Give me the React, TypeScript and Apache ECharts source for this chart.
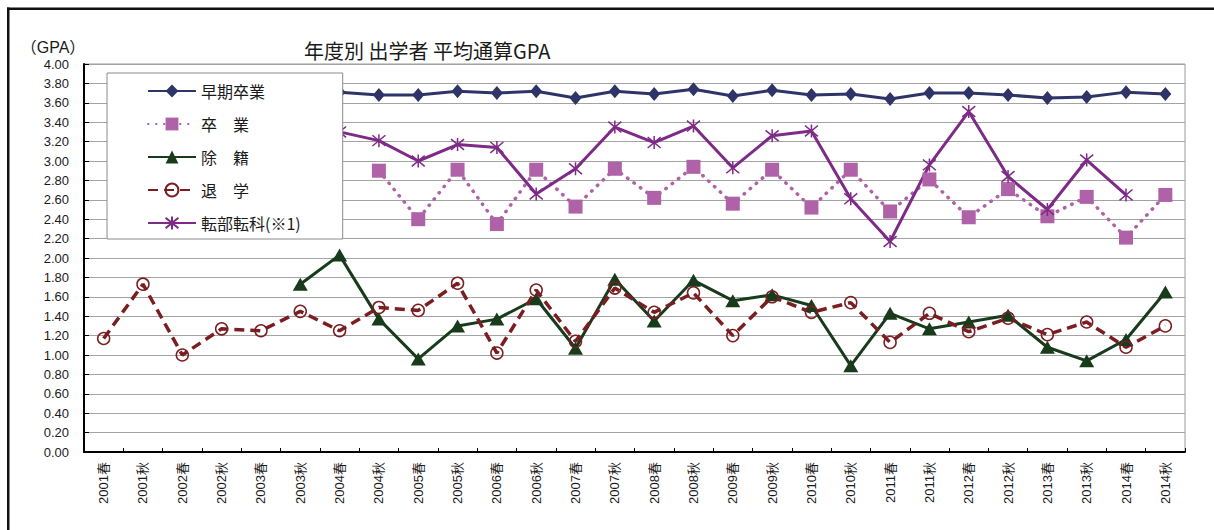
import React, { useEffect, useRef } from 'react';
import * as echarts from 'echarts';

const categories = [
  '2001春', '2001秋', '2002春', '2002秋', '2003春', '2003秋', '2004春', '2004秋',
  '2005春', '2005秋', '2006春', '2006秋', '2007春', '2007秋', '2008春', '2008秋',
  '2009春', '2009秋', '2010春', '2010秋', '2011春', '2011秋', '2012春', '2012秋',
  '2013春', '2013秋', '2014春', '2014秋',
];

const earlyGraduation = [
  null, null, null, null, null, null, 3.71, 3.68,
  3.68, 3.72, 3.70, 3.72, 3.65, 3.72, 3.69, 3.74,
  3.67, 3.73, 3.68, 3.69, 3.64, 3.70, 3.70, 3.68,
  3.65, 3.66, 3.71, 3.69,
];

const graduation = [
  null, null, null, null, null, null, null, 2.90,
  2.40, 2.91, 2.35, 2.91, 2.53, 2.92, 2.62, 2.94,
  2.56, 2.91, 2.52, 2.91, 2.48, 2.81, 2.42, 2.71,
  2.43, 2.63, 2.21, 2.65,
];

const expelled = [
  null, null, null, null, null, 1.73, 2.03, 1.37,
  0.96, 1.30, 1.37, 1.58, 1.07, 1.78, 1.35, 1.77,
  1.56, 1.62, 1.51, 0.89, 1.43, 1.27, 1.34, 1.41,
  1.08, 0.94, 1.16, 1.65,
];

const withdrawn = [
  1.17, 1.73, 1.00, 1.27, 1.25, 1.45, 1.25, 1.49,
  1.46, 1.74, 1.02, 1.67, 1.14, 1.69, 1.44, 1.64,
  1.20, 1.60, 1.44, 1.54, 1.13, 1.43, 1.24, 1.38,
  1.21, 1.34, 1.08, 1.30,
];

const transferred = [
  null, null, null, null, null, null, 3.30, 3.21,
  3.00, 3.17, 3.14, 2.66, 2.92, 3.35, 3.19, 3.36,
  2.93, 3.26, 3.31, 2.61, 2.17, 2.96, 3.51, 2.84,
  2.50, 3.01, 2.65, null,
];

const seriesNames = ['早期卒業', '卒　業', '除　籍', '退　学', '転部転科(※1)'];

const FONT = "'Liberation Sans', 'Noto Sans CJK JP', sans-serif";
const CJK = "'Noto Sans CJK JP', 'Liberation Sans', sans-serif";

export default function App() {
  const ref = useRef<HTMLDivElement>(null);

  useEffect(() => {
    document.body.style.margin = '0';
    const chart = echarts.init(ref.current!, null, { renderer: 'svg' });
    const option: any = {
      animation: false,
      backgroundColor: '#ffffff',
      title: {
        text: '年度別 出学者 平均通算GPA',
        left: 304,
        top: 40,
        padding: 0,
        textStyle: { fontFamily: CJK, fontSize: 20, fontWeight: 'normal', color: '#1a1a1a' },
      },
      graphic: [
        { type: 'line', shape: { x1: 7, y1: 8.75, x2: 1214, y2: 8.75 }, style: { stroke: '#111', lineWidth: 2.5 } },
        { type: 'line', shape: { x1: 8.25, y1: 7.5, x2: 8.25, y2: 530 }, style: { stroke: '#111', lineWidth: 2.5 } },
        {
          type: 'text', x: 53, y: 47,
          style: { text: '（GPA）', fontFamily: FONT, fontSize: 16, fill: '#1a1a1a', align: 'center', verticalAlign: 'middle' },
        },
      ],
      legend: {
        orient: 'vertical',
        left: 107,
        top: 73,
        padding: [10, 42, 8, 40],
        itemWidth: 48,
        itemHeight: 16,
        itemGap: 17,
        backgroundColor: '#ffffff',
        borderColor: '#8a8a8a',
        borderWidth: 1,
        borderRadius: 0,
        data: seriesNames,
        textStyle: { fontFamily: CJK, fontSize: 16, color: '#1a1a1a', padding: [0, 0, 0, 0] },
      },
      grid: {
        left: 84,
        right: 29,
        top: 64,
        bottom: 78,
        show: true,
        borderColor: '#9a9a9a',
        borderWidth: 1,
        backgroundColor: 'transparent',
      },
      xAxis: {
        type: 'category',
        data: categories,
        boundaryGap: true,
        axisLine: { lineStyle: { color: '#000', width: 2 } },
        axisTick: { show: true, inside: true, length: 4, lineStyle: { color: '#000', width: 1 } },
        axisLabel: { rotate: 90, fontFamily: FONT, fontSize: 13, color: '#1a1a1a', margin: 10, interval: 0 },
        splitLine: { show: false },
      },
      yAxis: {
        type: 'value',
        min: 0,
        max: 4,
        interval: 0.2,
        axisLine: { show: true, lineStyle: { color: '#000', width: 2 } },
        axisTick: { show: true, inside: true, length: 5, lineStyle: { color: '#000', width: 1 } },
        axisLabel: {
          fontFamily: FONT, fontSize: 13, color: '#1a1a1a', margin: 15,
          formatter: (v: number) => v.toFixed(2),
        },
        splitLine: { show: true, lineStyle: { color: '#a3a3a3', width: 1 } },
      },
      series: [
        {
          name: seriesNames[0],
          type: 'line',
          data: earlyGraduation,
          symbol: 'diamond',
          symbolSize: [12, 14],
          lineStyle: { color: '#2F3468', width: 3 },
          itemStyle: { color: '#2F3468' },
        },
        {
          name: seriesNames[1],
          type: 'line',
          data: graduation,
          symbol: 'rect',
          symbolSize: 14,
          lineStyle: { color: '#B062A9', width: 3.5, type: [0.5, 7.5], cap: 'round' },
          itemStyle: { color: '#B062A9' },
        },
        {
          name: seriesNames[2],
          type: 'line',
          data: expelled,
          symbol: 'triangle',
          symbolSize: [15, 13],
          lineStyle: { color: '#173B1B', width: 3 },
          itemStyle: { color: '#173B1B' },
        },
        {
          name: seriesNames[3],
          type: 'line',
          data: withdrawn,
          symbol: 'circle',
          symbolSize: 12,
          lineStyle: { color: '#7A1E22', width: 3.5, type: [10, 6] },
          itemStyle: { color: 'rgba(255,255,255,0)', borderColor: '#7A1E22', borderWidth: 1.5 },
        },
        {
          name: seriesNames[4],
          type: 'line',
          data: transferred,
          symbol: 'path://M0,0L10,10M10,0L0,10M5,-1L5,11',
          symbolSize: 13,
          lineStyle: { color: '#7E2A87', width: 3 },
          itemStyle: { color: '#7E2A87', borderColor: '#7E2A87', borderWidth: 1.5 },
        },
      ],
    };
    chart.setOption(option);
    return () => chart.dispose();
  }, []);

  return <div ref={ref} style={{ width: 1214, height: 530 }} />;
}
